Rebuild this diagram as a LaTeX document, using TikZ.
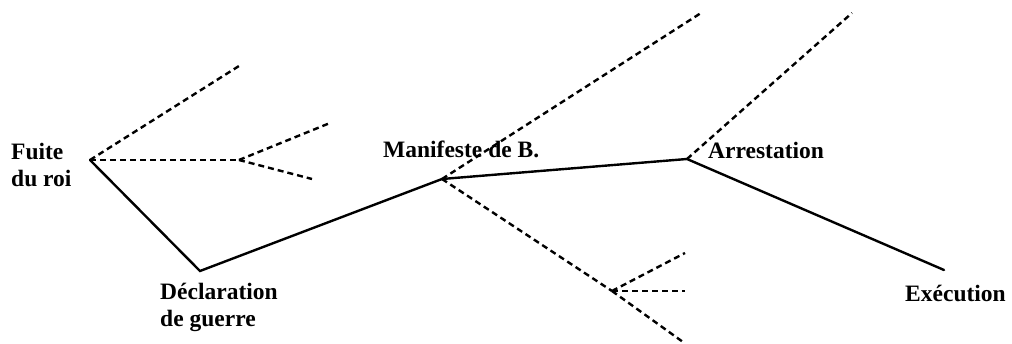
\documentclass[tikz,border=0pt]{standalone}
\usepackage{fontspec}
\setmainfont{Liberation Serif}
\begin{document}
\begin{tikzpicture}[x=1pt,y=-1pt,
  solidline/.style={line width=2.4pt,line cap=round,line join=miter},
  dashline/.style={line width=2.4pt,dash pattern=on 6pt off 4pt},
  lbl/.style={anchor=base west,inner sep=0pt,font=\bfseries\fontsize{23.5}{27}\selectfont,align=left}]
\useasboundingbox (0,0) rectangle (1012,344);
% main points
\coordinate (F) at (90,160);
\coordinate (D) at (200,271);
\coordinate (M) at (442,179);
\coordinate (A) at (687,159);
\coordinate (E) at (944,270);
% dashed ends
\coordinate (F1) at (239,66);
\coordinate (F2) at (239,160);
\coordinate (F2a) at (330,123);
\coordinate (F2b) at (312,179);
\coordinate (M1) at (701,13);
\coordinate (M2) at (612,291);
\coordinate (M3) at (683,342);
\coordinate (M2a) at (685,253);
\coordinate (M2b) at (685,291);
\coordinate (A1) at (852,13);
% solid path
\draw[solidline] (F) -- (D) -- (M) -- (A) -- (E);
% dashed branches
\draw[dashline] (F) -- (F1);
\draw[dashline] (F) -- (F2);
\draw[dashline] (F2) -- (F2a);
\draw[dashline] (F2) -- (F2b);
\draw[dashline] (M) -- (M1);
\draw[dashline] (M) -- (M2);
\draw[dashline] (M2) -- (M3);
\draw[dashline] (M2) -- (M2a);
\draw[dashline] (M2) -- (M2b);
\draw[dashline] (A) -- (A1);
% labels
\node[lbl] (tf) at (11,187) {Fuite\\du roi};
\node[lbl] (td) at (160,327) {Déclaration\\de guerre};
\node[lbl] (tm) at (383,158) {Manifeste de B.};
\node[lbl] (ta) at (708,159) {Arrestation};
\node[lbl] (te) at (905,302) {Exécution};
\end{tikzpicture}
\end{document}
